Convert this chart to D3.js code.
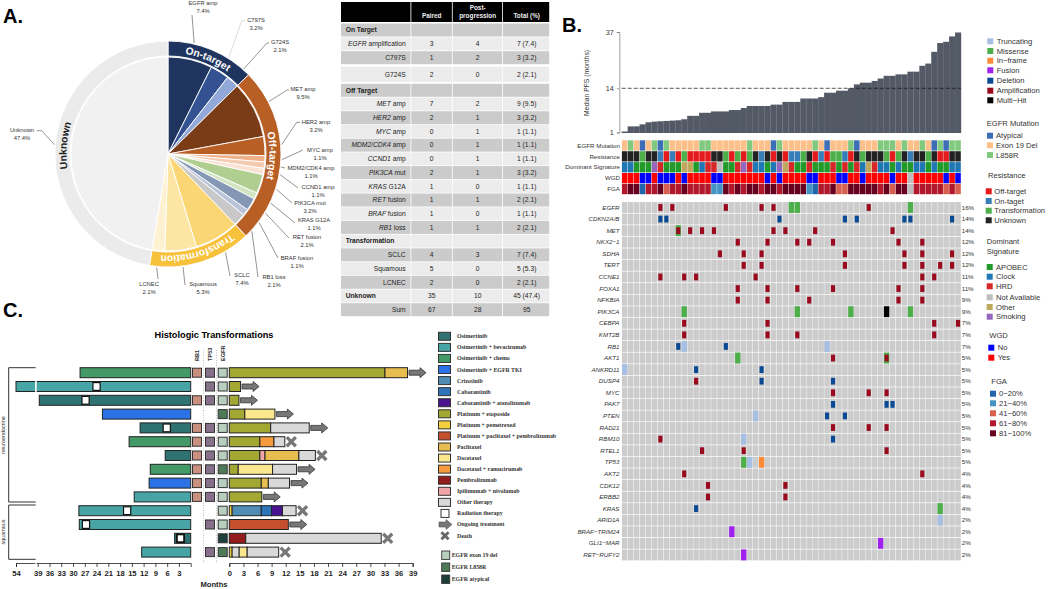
<!DOCTYPE html>
<html>
<head>
<meta charset="utf-8">
<script src="https://cdn.jsdelivr.net/npm/d3@7"></script>
<style>
  body { margin: 0; background: #fff; }
  text { font-family: "Liberation Sans", Arial, sans-serif; }
</style>
</head>
<body>
<figure id="chart" style="margin:0"></figure>
<script>
// ---- panel A: pie
const pieNames = ['EGFR amp', 'C797S', 'G724S', 'MET amp', 'HER2 amp', 'MYC amp', 'MDM2/CDK4 amp', 'CCND1 amp', 'PIK3CA mut', 'KRAS G12A', 'RET fusion', 'BRAF fusion', 'RB1 loss', 'SCLC', 'Squamous', 'LCNEC', 'Unknown']
const pieCounts = [7, 3, 2, 9, 3, 1, 1, 1, 3, 1, 2, 1, 2, 7, 5, 2, 45]
const piePct = ['7.4%', '3.2%', '2.1%', '9.5%', '3.2%', '1.1%', '1.1%', '1.1%', '3.2%', '1.1%', '2.1%', '1.1%', '2.1%', '7.4%', '5.3%', '2.1%', '47.4%']
const pieColors = ['#1f3560', '#345291', '#92a8d8', '#7a3c17', '#b85f26', '#efb18a', '#f5cbb0', '#fae3d5', '#b0ce90', '#d2e5c3', '#8497b5', '#b9c4d8', '#c8c8c8', '#fbd674', '#fde5a3', '#fdf1d2', '#f1f1f1']
const groupNames = ['On-target', 'Off-target', 'Transformation', 'Unknown']
const groupCounts = [12, 24, 14, 45]
const groupColors = ['#1f3560', '#b85f26', '#f7c13c', '#ebebeb']
const groupText = ['#fff', '#fff', '#fff', '#222']

// ---- table
const tableGene = ['', 'EGFR', '', '', '', 'MET', 'HER2', 'MYC', 'MDM2/CDK4', 'CCND1', 'PIK3CA', 'KRAS', 'RET', 'BRAF', 'RB1', '', '', '', '', '', '']
const tableLabel = ['On Target', ' amplification', 'C797S', 'G724S', 'Off Target', ' amp', ' amp', ' amp', ' amp', ' amp', ' mut', ' G12A', ' fusion', ' fusion', ' loss', 'Transformation', 'SCLC', 'Squamous', 'LCNEC', 'Unknown', 'Sum']
const tablePaired = ['', 3, 1, 2, '', 7, 2, 0, 0, 0, 2, 1, 1, 1, 1, '', 4, 5, 2, 35, 67]
const tablePost = ['', 4, 2, 0, '', 2, 1, 1, 1, 1, 1, 0, 1, 0, 1, '', 3, 0, 0, 10, 28]
const tableTotal = ['', '7 (7.4)', '3 (3.2)', '2 (2.1)', '', '9 (9.5)', '3 (3.2)', '1 (1.1)', '1 (1.1)', '1 (1.1)', '3 (3.2)', '1 (1.1)', '2 (2.1)', '1 (1.1)', '2 (2.1)', '', '7 (7.4)', '5 (5.3)', '2 (2.1)', '45 (47.4)', '95']
const tableBold = ['On Target', 'Off Target', 'Transformation', 'Unknown']

// ---- panel B: oncoprint
const pfsMonths = [1.3, 2.8, 2.8, 3.4, 4, 4.2, 4.3, 4.4, 4.5, 4.6, 4.9, 5.9, 5.9, 6.8, 6.8, 7.2, 7.2, 7.2, 7.6, 7.6, 8.2, 8.8, 8.8, 8.8, 8.8, 9.2, 9.2, 10, 10, 10, 11, 11, 11, 11.4, 12.7, 12.7, 13.3, 13.3, 14, 15.6, 16.3, 16.3, 17, 18, 19.1, 19.1, 19.7, 19.7, 20.8, 20.8, 23.2, 24.1, 28.9, 32.5, 33, 35.2, 36.8]
const pfsTicks = [1, 14, 37]
const trackNames = ['EGFR Mutation', 'Resistance', 'Dominant Signature', 'WGD', 'FGA']
const egfrTrack = ('ELEAELALEE' + 'EEELLEEEEE' + 'ELEEEALEEE' + 'EELEAEEELA' + 'EEELLLELEE' + 'LEALALL').split('')
const resistanceTrack = ('UUUTUUNONO' + 'TOOOOUUTOT' + 'OTUNUOUONN' + 'TUONOTTNOU' + 'TUUUTOTUNU' + 'UTUOOUU').split('')
const signatureTrack = ('CCAAASHAAA' + 'OOACHHNAAH' + 'SHCCACSOHA' + 'AHAAAHAHAH' + 'COHCCACAAC' + 'CACAACC').split('')
const wgdTrack = ('YYYNNYNNNY' + 'NYYYYNNYYY' + 'YYYYNYNYYY' + 'YNNYYYNNYY' + 'NYYYYNYYXY' + 'YYYYNYN').split('')
const fgaTrack = ('4551445344' + '5444422545' + '4554554555' + '5214453355' + '55545355X4' + '4444343').split('')
const trackColors = [
  { E: '#fdc08a', L: '#80c97f', A: '#3d6db5' },
  { U: '#222222', O: '#e41a1c', N: '#377eb8', T: '#4daf4a' },
  { C: '#1f78b4', A: '#229a2a', H: '#d62728', S: '#9467bd', O: '#bfa85d', N: '#bdbdbd' },
  { Y: '#ff0000', N: '#0000ff', X: '#bdbdbd' },
  { 1: '#2166ac', 2: '#4393c3', 3: '#d6604d', 4: '#b2182b', 5: '#67001f', X: '#bdbdbd' }
]
const geneNames = ['EGFR', 'CDKN2A/B', 'MET', 'NKX2\u22121', 'SDHA', 'TERT', 'CCNE1', 'FOXA1', 'NFKBIA', 'PIK3CA', 'CEBPA', 'KMT2B', 'RB1', 'AKT1', 'ANKRD11', 'DUSP4', 'MYC', 'PAK7', 'PTEN', 'RAD21', 'RBM10', 'RTEL1', 'TP53', 'AKT2', 'CDK12', 'ERBB2', 'KRAS', 'ARID1A', 'BRAF\u2212TRIM24', 'GLI1\u2212MAR', 'RET\u2212RUFY2']
const genePct = [16, 14, 14, 12, 12, 12, 11, 11, 9, 9, 7, 7, 7, 5, 5, 5, 5, 5, 5, 5, 5, 5, 5, 4, 4, 4, 4, 2, 2, 2, 2]
// sample index + alteration type, one list per gene
const geneAlts = [
  [[6, 'A'], [8, 'A'], [17, 'A'], [23, 'A'], [25, 'A'], [28, 'M'], [29, 'M'], [41, 'A'], [48, 'M']],
  [[6, 'D'], [7, 'D'], [26, 'D'], [37, 'D'], [39, 'D'], [47, 'D'], [48, 'D'], [55, 'D']],
  [[9, 'M'], [9, 'A'], [11, 'A'], [13, 'A'], [15, 'A'], [25, 'A'], [27, 'A'], [32, 'A'], [45, 'A']],
  [[19, 'A'], [24, 'A'], [29, 'A'], [31, 'A'], [35, 'A'], [46, 'A'], [50, 'A']],
  [[16, 'A'], [20, 'A'], [23, 'A'], [37, 'A'], [47, 'A'], [50, 'A'], [55, 'A']],
  [[20, 'A'], [23, 'A'], [37, 'A'], [47, 'A'], [50, 'A'], [53, 'A'], [55, 'A']],
  [[6, 'A'], [10, 'A'], [12, 'A'], [22, 'A'], [50, 'A'], [52, 'A']],
  [[19, 'A'], [24, 'A'], [29, 'A'], [35, 'A'], [46, 'A'], [50, 'A']],
  [[19, 'A'], [24, 'A'], [31, 'A'], [46, 'A'], [50, 'A']],
  [[10, 'M'], [29, 'M'], [38, 'M'], [44, 'H'], [48, 'M']],
  [[10, 'A'], [24, 'A'], [52, 'A'], [56, 'A']],
  [[10, 'A'], [24, 'A'], [29, 'A'], [52, 'A']],
  [[9, 'D'], [10, 'T'], [17, 'D'], [34, 'T']],
  [[19, 'M'], [35, 'A'], [44, 'M'], [44, 'A']],
  [[0, 'T'], [12, 'D'], [23, 'D']],
  [[12, 'A'], [23, 'D'], [35, 'D']],
  [[35, 'A'], [41, 'A'], [44, 'A']],
  [[35, 'D'], [44, 'D'], [45, 'D']],
  [[22, 'T'], [34, 'D'], [37, 'D']],
  [[35, 'A'], [41, 'A'], [44, 'A']],
  [[6, 'A'], [20, 'T'], [35, 'D']],
  [[13, 'A'], [20, 'A'], [44, 'A']],
  [[20, 'M'], [21, 'T'], [23, 'I']],
  [[10, 'A'], [50, 'A']],
  [[14, 'A'], [27, 'A']],
  [[14, 'A'], [27, 'A']],
  [[12, 'D'], [53, 'M']],
  [[53, 'T']],
  [[18, 'F']],
  [[43, 'F']],
  [[20, 'F']]
]
const altColors = { T: '#a6bfe3', M: '#4daf4a', I: '#ff8c3b', F: '#a020f0', D: '#0a4a94', A: '#9a0a1e', H: '#000000' }
const altLegend = [['Truncating', 'T'], ['Missense', 'M'], ['In\u2212frame', 'I'], ['Fusion', 'F'], ['Deletion', 'D'], ['Amplification', 'A'], ['Multi\u2212Hit', 'H']]
const egfrLegend = ['Atypical', 'Exon 19 Del', 'L858R']
const resistanceLegend = ['Off-target', 'On-taget', 'Transformation', 'Unknown']
const signatureLegend = ['APOBEC', 'Clock', 'HRD', 'Not Available', 'Other', 'Smoking']
const wgdLegend = ['No', 'Yes']
const fgaLegend = ['0\u221220%', '21\u221240%', '41\u221260%', '61\u221280%', '81\u2212100%']

// ---- panel C: swimmer plot
const treatNames = ['Osimertinib', 'Osimertinib + bevacizumab', 'Osimertinib + chemo', 'Osimertinib + EGFR TKI', 'Crizotinib', 'Cabozantinib', 'Cabozantinib + atezolizumab', 'Platinum + etoposide', 'Platinum + pemetrexed', 'Platinum + paclitaxel + pembrolizumab', 'Paclitaxel', 'Docetaxel', 'Docetaxel + ramucirumab', 'Pembrolizumab', 'Ipilimumab + nivolumab', 'Other therapy']
const treatColors = ['#2e7272', '#47a5a5', '#439a66', '#2a72e6', '#4f8db5', '#2d74b8', '#4b1390', '#a3a832', '#f2cf3c', '#c4502d', '#e8bd50', '#fbe88e', '#f59b3e', '#931c1c', '#f2a5a8', '#d9d9d9']
// months before transformation: [treatment index, start month, radiation month or null]
const priorTherapy = [[2, 28.2, null], [1, 54, 24], [0, 38.6, 26.8], [3, 22.5, null], [0, 12.9, 6.1], [2, 15.7, null], [0, 6.5, null], [2, 10.3, null], [3, 10.6, null], [1, 14.4, null], [1, 28.5, 16.2], [1, 28.4, 26.7], [0, 4.1, 2.6], [1, 12.5, null]]
// months after transformation: [treatment index, end month] in order
const postTherapy = [
  [[7, 33.1], [10, 37.9]],
  [[7, 2.4]],
  [[7, 2.05]],
  [[7, 3.3], [11, 9.7]],
  [[7, 8.8], [15, 17]],
  [[7, 6.5], [12, 9.5], [15, 11.8]],
  [[7, 6.5], [14, 7.6], [10, 14.8], [15, 18.3]],
  [[7, 1.9], [11, 9.2], [15, 14.3]],
  [[7, 6.8], [10, 8.3], [15, 12.8]],
  [[7, 6.9]],
  [[8, 0.6], [4, 6.8], [5, 9], [6, 11.3], [15, 14.2]],
  [[9, 12.55]],
  [[13, 3.5], [15, 32.3]],
  [[8, 0.6], [15, 2.1], [11, 3.8], [15, 10.5]]
]
const outcome = ['arrow', 'arrow', 'arrow', 'arrow', 'arrow', 'x', 'x', 'arrow', 'arrow', 'arrow', 'x', 'arrow', 'x', 'x']
const rb1Rows = [0, 2, 4, 5, 6, 7, 8, 9]
const tp53Rows = [0, 1, 2, 4, 5, 6, 7, 8, 9, 11, 13]
const egfrRows = ['E', 'E', 'E', 'L', 'E', 'E', 'E', 'L', 'E', 'E', 'E', 'E', 'A', 'L']
const egfrChip = { E: '#b8cfc0', L: '#4f7a5a', A: '#1d3f38' }
const monthTicksLeft = [54, 39, 36, 33, 30, 27, 24, 21, 18, 15, 12, 9, 6, 3]
const monthTicksRight = d3.range(0, 40, 3)

const svg = d3.select('#chart').append('svg').attr('width', 1050).attr('height', 589)

// panel letters
svg.selectAll('.letter').data([['A.', 3, 23], ['B.', 562, 32], ['C.', 3, 317]]).enter().append('text')
  .attr('x', d => d[1]).attr('y', d => d[2])
  .style('font-size', '20px').style('font-weight', 'bold').text(d => d[0])

drawPie()
drawTable()
drawOncoprint()
drawSwimmer()

function drawPie() {
  const cx = 168, cy = 154
  const g = svg.append('g').attr('transform', `translate(${cx},${cy})`)
  const pie = d3.pie().sort(null).value(d => d)
  const inner = d3.arc().innerRadius(0).outerRadius(97)
  const outer = d3.arc().innerRadius(98).outerRadius(113)

  g.selectAll('.slice').data(pie(pieCounts)).enter().append('path')
    .attr('d', inner).attr('fill', (d, i) => pieColors[i]).attr('stroke', '#fff').attr('stroke-width', 0.9)
  const groupArcs = pie(groupCounts)
  g.selectAll('.ring').data(groupArcs).enter().append('path')
    .attr('d', outer).attr('fill', (d, i) => groupColors[i]).attr('stroke', '#fff').attr('stroke-width', 0.9)

  // curved group labels
  const textArc = r => d => {
    const p = d3.path()
    p.arc(0, 0, r, d.startAngle - Math.PI / 2, d.endAngle - Math.PI / 2)
    return p.toString()
  }
  g.selectAll('.ringPath').data(groupArcs).enter().append('path')
    .attr('id', (d, i) => 'ring' + i).attr('d', textArc(101.5)).attr('fill', 'none')
  g.selectAll('.ringLabel').data(groupArcs).enter().append('text')
    .style('font-size', '10.3px').style('font-weight', 'bold').attr('fill', (d, i) => groupText[i])
    .append('textPath').attr('href', (d, i) => '#ring' + i).attr('startOffset', '50%')
    .attr('text-anchor', 'middle').text((d, i) => groupNames[i])

  // label anchors (px on the page): text centre x, first line y, elbow x, elbow y, stub end x
  const anchors = [
    [203, 3, 192, 15, 192], [256, 20, 241.7, 20.7, 245], [280, 42, 267, 43, 269], [303, 89, 287, 90, 289], [316, 122, 296.7, 122.3, 300],
    [320, 150, 303, 150, 303], [311, 168, 285, 168, 285], [318, 187, 298, 188, 298], [310, 203, 292, 203, 292], [314, 220, 295, 223, 295],
    [307, 237, 289, 238, 289], [297, 258, 278, 258, 278], [274, 277, 258, 277, 258], [242, 275, 230, 276, 230], [203, 284, 185, 285, 185],
    [149, 284, 158, 279, 158], [22, 130, 41.7, 130.7, 36.7]
  ]
  const leader = d3.arc().innerRadius(114).outerRadius(114)
  const sliceArcs = pie(pieCounts)
  sliceArcs.forEach((d, i) => {
    const a = anchors[i]
    const p0 = leader.centroid(d)
    svg.append('path')
      .attr('d', d3.line()([[p0[0] + cx, p0[1] + cy], [a[2], a[3]], [a[4], a[3]]]))
      .attr('fill', 'none').attr('stroke', i === 1 ? '#ccc' : '#666').attr('stroke-width', 0.7)
    svg.append('text').attr('x', a[0]).attr('y', a[1] + 2).attr('text-anchor', 'middle')
      .style('font-size', '5.8px').attr('fill', '#333').text(pieNames[i])
    svg.append('text').attr('x', a[0]).attr('y', a[1] + 9.5).attr('text-anchor', 'middle')
      .style('font-size', '5.8px').attr('fill', '#333').text(piePct[i])
  })
}

function drawTable() {
  const rowY = d3.scaleLinear().domain([0, 2, 3, 4, 20]).range([30, 57.7, 74.3, 90.3, 309.7])
  const colEdges = [341, 411.3, 452.7, 503, 550]
  const colX = [431.7, 477.7, 526.7]
  const g = svg.append('g')

  // header
  d3.pairs(colEdges).forEach(e => {
    g.append('rect').attr('x', e[0]).attr('y', 2).attr('width', e[1] - e[0] - 0.8).attr('height', 20).attr('fill', '#000')
  })
  const head = [['Paired', colX[0], 18], ['Post-', colX[1], 9.5], ['progression', colX[1], 18], ['Total (%)', colX[2], 18]]
  head.forEach(h => g.append('text').attr('x', h[1]).attr('y', h[2]).attr('text-anchor', 'middle')
    .attr('fill', '#eee').style('font-size', '6.4px').style('font-weight', 'bold').text(h[0]))

  tableLabel.forEach((label, i) => {
    const y = rowY(i), h = i === 3 ? 15.2 : 13
    d3.pairs(colEdges).forEach(e => {
      g.append('rect').attr('x', e[0]).attr('y', y - h / 2).attr('width', e[1] - e[0] - 0.8).attr('height', h)
        .attr('fill', i % 2 === 0 ? '#cbcbcb' : '#ececec')
    })
    const bold = tableBold.includes(label)
    const t = g.append('text').attr('y', y + 2.3).style('font-size', '6.7px').attr('fill', '#222')
      .attr('x', bold ? 345.7 : 405.7).attr('text-anchor', bold ? 'start' : 'end')
      .style('font-weight', bold ? 'bold' : 'normal')
    if (tableGene[i]) t.append('tspan').style('font-style', 'italic').text(tableGene[i])
    t.append('tspan').style('white-space', 'pre').text(label)
    const vals = [tablePaired[i], tablePost[i], tableTotal[i]]
    vals.forEach((v, k) => {
      g.append('text').attr('x', colX[k]).attr('y', y + 2.3).attr('text-anchor', 'middle')
        .style('font-size', '6.7px').attr('fill', '#222').text(v)
    })
  })
}

function drawOncoprint() {
  const left = 621.7, right = 961
  const x = d3.scaleBand().domain(d3.range(pfsMonths.length)).range([left, right])
  const g = svg.append('g')

  // PFS bars; the y axis is not linear in the original
  const y = d3.scaleLinear().domain([1, 14, 37]).range([132.5, 88.3, 32])
  g.selectAll('.pfs').data(pfsMonths).enter().append('rect')
    .attr('x', (d, i) => x(i)).attr('width', x.bandwidth() + 0.2)
    .attr('y', d => y(d)).attr('height', d => 133 - y(d)).attr('fill', '#535a66')
  g.append('line').attr('x1', x(0)).attr('x2', right).attr('y1', y(14)).attr('y2', y(14))
    .attr('stroke', '#111').attr('stroke-width', 0.7).attr('stroke-dasharray', '4,2')
  const axis = g.append('g').attr('transform', `translate(${left - 2.4},0)`)
    .call(d3.axisLeft(y).tickValues(pfsTicks).tickSize(2.5).tickFormat(d3.format('d')))
  axis.selectAll('path,line').attr('stroke', '#777').attr('stroke-width', 0.7)
  axis.selectAll('text').style('font-size', '7.2px').attr('fill', '#333')
  g.append('text').attr('transform', 'translate(589,83) rotate(-90)').attr('text-anchor', 'middle')
    .style('font-size', '6.8px').attr('fill', '#333').text('Median PFS (months)')

  // annotation tracks
  const tracks = [egfrTrack, resistanceTrack, signatureTrack, wgdTrack, fgaTrack]
  const ty = d3.scaleBand().domain(trackNames).range([140, 194.5])
  tracks.forEach((track, k) => {
    g.selectAll('.t' + k).data(track).enter().append('rect')
      .attr('x', (d, i) => x(i) + 0.2).attr('width', x.bandwidth() - 0.4)
      .attr('y', ty(trackNames[k]) + 0.3).attr('height', ty.bandwidth() - 0.6)
      .attr('fill', d => trackColors[k][d])
    g.append('text').attr('x', 620).attr('y', ty(trackNames[k]) + ty.bandwidth() / 2 + 2.2)
      .attr('text-anchor', 'end').style('font-size', '6.2px').attr('fill', '#333').text(trackNames[k])
  })

  // gene grid
  const gy = d3.scaleBand().domain(geneNames).range([201.7, 560.7])
  const small = d => d[1] === 'A' || d[1] === 'D'
  geneNames.forEach((gene, r) => {
    g.selectAll('.cell' + r).data(d3.range(pfsMonths.length)).enter().append('rect')
      .attr('x', d => x(d) + 0.2).attr('width', x.bandwidth() - 0.4)
      .attr('y', gy(gene) + 0.35).attr('height', gy.bandwidth() - 0.7).attr('fill', '#cccccc')
    g.selectAll('.alt' + r).data(geneAlts[r]).enter().append('rect')
      .attr('x', d => x(d[0]) + (small(d) ? 0.9 : 0.3))
      .attr('width', d => x.bandwidth() - (small(d) ? 1.8 : 0.6))
      .attr('y', d => gy(gene) + (small(d) ? 2.4 : 0.35))
      .attr('height', d => gy.bandwidth() - (small(d) ? 4.8 : 0.7))
      .attr('fill', d => altColors[d[1]])
    g.append('text').attr('x', 619.5).attr('y', gy(gene) + gy.bandwidth() / 2 + 2.1).attr('text-anchor', 'end')
      .style('font-size', '6.2px').style('font-style', 'italic').attr('fill', '#333').text(gene)
    g.append('text').attr('x', 961.7).attr('y', gy(gene) + gy.bandwidth() / 2 + 2.1)
      .style('font-size', '6.2px').attr('fill', '#333').text(genePct[r] + '%')
  })

  // legends
  const legendBlock = (title, titleX, titleY, names, colors, swatchX, textX, ys) => {
    const l = svg.append('g')
    if (title) (Array.isArray(title) ? title : [title]).forEach((t, i) => {
      l.append('text').attr('x', titleX).attr('y', titleY + i * 9.7).style('font-size', '7.6px').attr('fill', '#333').text(t)
    })
    names.forEach((n, i) => {
      l.append('rect').attr('x', swatchX).attr('y', ys[i] - 3).attr('width', 6).attr('height', 6).attr('fill', colors[i])
      l.append('text').attr('x', textX).attr('y', ys[i] + 2.7).style('font-size', '7.6px').attr('fill', '#333').text(n)
    })
  }
  legendBlock(null, 0, 0, altLegend.map(d => d[0]), altLegend.map(d => altColors[d[1]]), 987.3, 996.7, [41.3, 51, 60.7, 70.3, 80.7, 90.7, 100.3])
  legendBlock('EGFR Mutation', 986.7, 125.5, egfrLegend, ['#3d6db5', '#fdc08a', '#80c97f'], 987, 996, [135.7, 145.3, 155])
  legendBlock('Resistance', 988, 178, resistanceLegend, ['#e41a1c', '#377eb8', '#4daf4a', '#222222'], 985.7, 994.3, [191.3, 201, 210.7, 220.3])
  legendBlock(['Dominant', 'Signature'], 986.7, 244.4, signatureLegend, ['#229a2a', '#1f78b4', '#d62728', '#bdbdbd', '#bfa85d', '#9467bd'], 986.7, 996, [267, 276.7, 286.3, 297.3, 307, 316.7])
  legendBlock('WGD', 989.3, 337.7, wgdLegend, ['#0000ff', '#ff0000'], 988.3, 997.7, [347.7, 357.7])
  legendBlock('FGA', 991.3, 383.7, fgaLegend, ['#2166ac', '#4393c3', '#d6604d', '#b2182b', '#67001f'], 990, 999, [393.7, 403.3, 413.3, 423.3, 433.3])
}

function arrowPath(x0, yc, len) {
  const p = d3.path()
  p.moveTo(x0, yc - 2.5)
  p.lineTo(x0 + len - 6, yc - 2.5)
  p.lineTo(x0 + len - 6, yc - 5)
  p.lineTo(x0 + len, yc)
  p.lineTo(x0 + len - 6, yc + 5)
  p.lineTo(x0 + len - 6, yc + 2.5)
  p.lineTo(x0, yc + 2.5)
  p.closePath()
  return p.toString()
}

function drawSwimmer() {
  const xL = d3.scaleLinear().domain([0, 39, 54]).range([190.7, 37.7, 16])
  const xR = d3.scaleLinear().domain([0, 39]).range([229.3, 412.7])
  const y = d3.scaleBand().domain(d3.range(priorTherapy.length)).range([365.8, 559])
  const barH = 10
  const g = svg.append('g')
  const yc = i => y(i) + y.bandwidth() / 2

  g.append('text').attr('x', 214).attr('y', 338).attr('text-anchor', 'middle')
    .style('font-size', '9.2px').style('font-weight', 'bold').text('Histologic Transformations')

  // dotted separators between chip columns
  ;[203.5, 216.5].forEach(v => {
    g.append('line').attr('x1', v).attr('x2', v).attr('y1', 350).attr('y2', 563)
      .attr('stroke', '#999').attr('stroke-width', 0.6).attr('stroke-dasharray', '1,1.5')
  })

  // before transformation
  priorTherapy.forEach((d, i) => {
    g.append('rect').attr('x', xL(d[1])).attr('y', yc(i) - barH / 2).attr('width', xL(0) - xL(d[1])).attr('height', barH)
      .attr('fill', treatColors[d[0]]).attr('stroke', '#222').attr('stroke-width', 1)
    if (d[2] !== null) {
      g.append('rect').attr('x', xL(d[2]) - 3.6).attr('y', yc(i) - 3.9).attr('width', 7.2).attr('height', 7.8)
        .attr('fill', '#fff').attr('stroke', '#111').attr('stroke-width', i === 12 ? 1.8 : 1.2)
    }
  })
  g.append('rect').attr('x', xL(39) - 2.6).attr('y', yc(1) - 6).attr('width', 1.6).attr('height', 12).attr('fill', '#fff')

  // genotype chips
  const chip = (cx, i, fill) => g.append('rect').attr('x', cx - 4.5).attr('y', yc(i) - 4.5).attr('width', 9).attr('height', 9)
    .attr('fill', fill).attr('stroke', '#333').attr('stroke-width', 1)
  rb1Rows.forEach(i => chip(197, i, '#c98f7f'))
  tp53Rows.forEach(i => chip(210, i, '#87708a'))
  egfrRows.forEach((d, i) => chip(222.7, i, egfrChip[d]))
  ;[['RB1', 197], ['TP53', 210], ['EGFR', 222.7]].forEach(d => {
    g.append('text').attr('transform', `translate(${d[1] + 1.8},361) rotate(-90)`)
      .style('font-size', '5.6px').style('font-weight', 'bold').attr('fill', '#333').text(d[0])
  })

  // after transformation
  postTherapy.forEach((segs, i) => {
    let start = 0
    segs.forEach(s => {
      g.append('rect').attr('x', xR(start)).attr('y', yc(i) - barH / 2).attr('width', xR(s[1]) - xR(start)).attr('height', barH)
        .attr('fill', treatColors[s[0]]).attr('stroke', '#222').attr('stroke-width', 1)
      start = s[1]
    })
    const end = xR(start)
    if (outcome[i] === 'arrow') {
      g.append('path').attr('d', arrowPath(end + 1.5, yc(i), 17)).attr('fill', '#777').attr('stroke', '#333').attr('stroke-width', 0.8)
    } else {
      g.append('path').attr('d', d3.symbol().type(d3.symbolX).size(55)()).attr('transform', `translate(${end + 6.5},${yc(i)})`)
        .attr('fill', 'none').attr('stroke', '#777').attr('stroke-width', 3.3)
    }
  })

  // month axes
  const axisL = g.append('g').attr('transform', 'translate(0,563)')
    .call(d3.axisBottom(xL).tickValues(monthTicksLeft).tickSize(4).tickFormat(d3.format('d')))
  const axisR = g.append('g').attr('transform', 'translate(0,563)')
    .call(d3.axisBottom(xR).tickValues(monthTicksRight).tickSize(4).tickFormat(d3.format('d')))
  ;[axisL, axisR].forEach(a => {
    a.selectAll('path,line').attr('stroke', '#222').attr('stroke-width', 0.8)
    a.selectAll('text').style('font-size', '7.6px').style('font-weight', 'bold').attr('fill', '#222').attr('dy', '0.85em')
  })
  axisL.append('rect').attr('x', xL(39) - 2.4).attr('y', -1).attr('width', 1.4).attr('height', 2).attr('fill', '#fff')
  g.append('text').attr('x', 214).attr('y', 587).attr('text-anchor', 'middle')
    .style('font-size', '7.6px').style('font-weight', 'bold').attr('fill', '#222').text('Months')

  // cohort brackets
  const bracket = (y0, y1) => g.append('path').attr('d', d3.line()([[35.7, y0], [8.7, y0], [8.7, y1], [35.7, y1]]))
    .attr('fill', 'none').attr('stroke', '#333').attr('stroke-width', 1)
  bracket(367.7, 502)
  bracket(505, 559.3)
  g.append('text').attr('transform', 'translate(5,435) rotate(-90)').attr('text-anchor', 'middle')
    .style('font-size', '5.4px').attr('fill', '#333').text('neuroendocrine')
  g.append('text').attr('transform', 'translate(5,532) rotate(-90)').attr('text-anchor', 'middle')
    .style('font-size', '5.4px').attr('fill', '#333').text('squamous')

  // treatment legend
  const ly = d3.scaleLinear().domain([0, 1]).range([336.3, 347.37])
  const ltext = (x, yy, t) => g.append('text').attr('x', x).attr('y', yy + 2).style('font-family', 'Liberation Serif')
    .style('font-size', '5.85px').style('font-weight', 'bold').attr('fill', '#333').text(t)
  treatNames.forEach((n, i) => {
    g.append('rect').attr('x', 438.5).attr('y', ly(i) - 4).attr('width', 12).attr('height', 8)
      .attr('fill', treatColors[i]).attr('stroke', '#333').attr('stroke-width', 1)
    ltext(457, ly(i), n)
  })
  g.append('rect').attr('x', 441).attr('y', ly(16) - 4).attr('width', 8).attr('height', 8).attr('fill', '#fff').attr('stroke', '#333').attr('stroke-width', 1)
  ltext(457, ly(16), 'Radiation therapy')
  g.append('path').attr('d', arrowPath(439, ly(17), 13)).attr('fill', '#777').attr('stroke', '#555').attr('stroke-width', 0.6)
  ltext(457, ly(17), 'Ongoing treatment')
  g.append('path').attr('d', d3.symbol().type(d3.symbolX).size(35)()).attr('transform', `translate(445,${ly(18) + 0.2})`)
    .attr('fill', 'none').attr('stroke', '#666').attr('stroke-width', 2.8)
  ltext(457, ly(18), 'Death')
  const chipLegend = [['EGFR exon 19 del', 'E', 555], ['EGFR L858R', 'L', 567], ['EGFR atypical', 'A', 579]]
  chipLegend.forEach(c => {
    g.append('rect').attr('x', 441.7).attr('y', c[2] - 4).attr('width', 8).attr('height', 8.4).attr('fill', egfrChip[c[1]]).attr('stroke', '#333').attr('stroke-width', 0.9)
    ltext(451.7, c[2] - 0.3, c[0])
  })
}
</script>
</body>
</html>
